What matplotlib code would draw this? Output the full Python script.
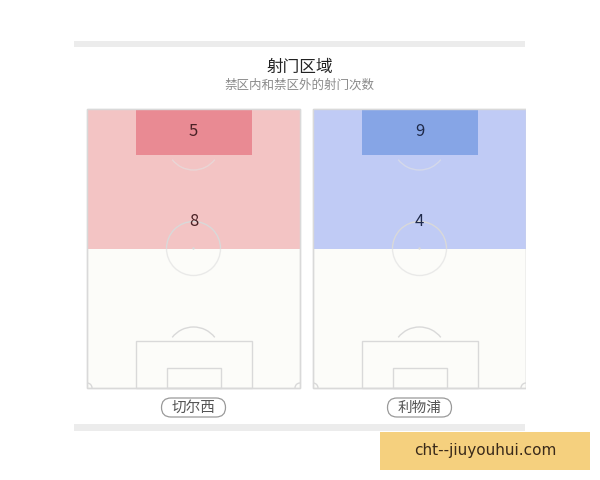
import matplotlib
matplotlib.use("Agg")
import matplotlib.pyplot as plt
from matplotlib.patches import Rectangle, Circle, Arc, FancyBboxPatch

plt.rcParams['font.family'] = ['Noto Sans CJK SC', 'DejaVu Sans']

# --- DATA ---
TITLE = "射门区域"
SUBTITLE = "禁区内和禁区外的射门次数"
teams = ["切尔西", "利物浦"]
shots_inside_box = [5, 9]
shots_outside_box = [8, 4]
outer_colors = ["#f3c4c4", "#c0cbf5"]
inner_colors = ["#e98a93", "#86a5e6"]
text_colors = ["#4a2226", "#1f2a4a"]

LINE = "#d9d9d9"
PITCH_BG = "#fcfcf9"


def draw_pitch(ax, x0, y0, w, h, clip):
    mid = y0 + h / 2
    cx = x0 + w / 2
    box_w, box_h = 116, 47
    ga_w, ga_h = 54, 20
    arts = []
    arts.append(Rectangle((x0, y0), w, h, facecolor=PITCH_BG, edgecolor=LINE, lw=1.0, zorder=1))
    arts.append(Rectangle((x0, y0), w, h, facecolor="none", edgecolor=LINE, lw=1.0, zorder=4))
    # bottom half of centre circle is solid, top half faint over the colour
    arts.append(Arc((cx, mid), 54, 54, theta1=180, theta2=360, edgecolor=LINE, lw=1.0, zorder=4))
    arts.append(Arc((cx, mid), 54, 54, theta1=0, theta2=180, edgecolor="#e2e2e2", lw=1.0,
                    zorder=4, alpha=0.7))
    arts.append(Circle((cx, mid), 1.2, facecolor=LINE, edgecolor="none", zorder=4))
    # bottom end
    arts.append(Rectangle((cx - box_w / 2, y0 + h - box_h), box_w, box_h, facecolor="none",
                          edgecolor=LINE, lw=1.0, zorder=4))
    arts.append(Rectangle((cx - ga_w / 2, y0 + h - ga_h), ga_w, ga_h, facecolor="none",
                          edgecolor=LINE, lw=1.0, zorder=4))
    arts.append(Arc((cx, y0 + h - 34), 54, 54, theta1=180 + 38, theta2=360 - 38,
                    edgecolor=LINE, lw=1.0, zorder=4))
    # top end (only the arc shows below the coloured box)
    arts.append(Arc((cx, y0 + 34), 54, 54, theta1=38, theta2=180 - 38,
                    edgecolor="#e2e2e2", lw=1.0, zorder=2.5, alpha=0.6))
    for (px, py), t1, t2 in [((x0, y0 + h), 270, 360), ((x0 + w, y0 + h), 180, 270)]:
        arts.append(Arc((px, py), 10, 10, theta1=t1, theta2=t2, edgecolor=LINE, lw=1.0, zorder=4))
    for a in arts:
        ax.add_patch(a)
        a.set_clip_path(clip)


def main():
    fig = plt.figure(figsize=(6, 4.8), dpi=100)
    ax = fig.add_axes([0, 0, 1, 1])
    ax.set_xlim(0, 600)
    ax.set_ylim(480, 0)
    ax.axis("off")

    # panel separators
    ax.add_patch(Rectangle((74, 41), 451, 6, facecolor="#ececec", edgecolor="none"))
    ax.add_patch(Rectangle((74, 424), 451, 7, facecolor="#ececec", edgecolor="none"))

    ax.text(300, 67, TITLE, ha="center", va="center", fontsize=12, color="#222222")
    ax.text(300, 85, SUBTITLE, ha="center", va="center", fontsize=9, color="#8a8a8a")

    clip = Rectangle((74, 100), 451.5, 300, transform=ax.transData)

    pitch_x = [87, 313]
    y0, w, h = 109, 213, 279
    for i, team in enumerate(teams):
        x0 = pitch_x[i]
        cx = x0 + w / 2
        draw_pitch(ax, x0, y0, w, h, clip)
        half = Rectangle((x0, y0), w, h / 2, facecolor=outer_colors[i], edgecolor="none", zorder=2)
        ax.add_patch(half)
        half.set_clip_path(clip)
        box = Rectangle((cx - 58, y0), 116, 46, facecolor=inner_colors[i], edgecolor="none", zorder=3)
        ax.add_patch(box)
        ax.text(cx, 132, str(shots_inside_box[i]), ha="center", va="center", fontsize=12,
                color=text_colors[i], zorder=5)
        ax.text(cx, 222, str(shots_outside_box[i]), ha="center", va="center", fontsize=12,
                color=text_colors[i], zorder=5)

        pill = FancyBboxPatch((cx - 32, 398), 64, 19, boxstyle="round,pad=0,rounding_size=9.5",
                              facecolor="white", edgecolor="#9a9a9a", lw=0.9, zorder=5)
        ax.add_patch(pill)
        ax.text(cx, 407.5, team, ha="center", va="center", fontsize=10.5, color="#555555", zorder=6)

    # watermark
    ax.add_patch(Rectangle((380, 432), 210, 38, facecolor="#f5d07e", edgecolor="none", zorder=7))
    ax.text(485, 451, "cht--jiuyouhui.com", ha="center", va="center", fontsize=11,
            color="#3a2a1a", zorder=8, family=["DejaVu Sans"])

    fig.savefig("out.png", dpi=100)


if __name__ == '__main__':
    main()
